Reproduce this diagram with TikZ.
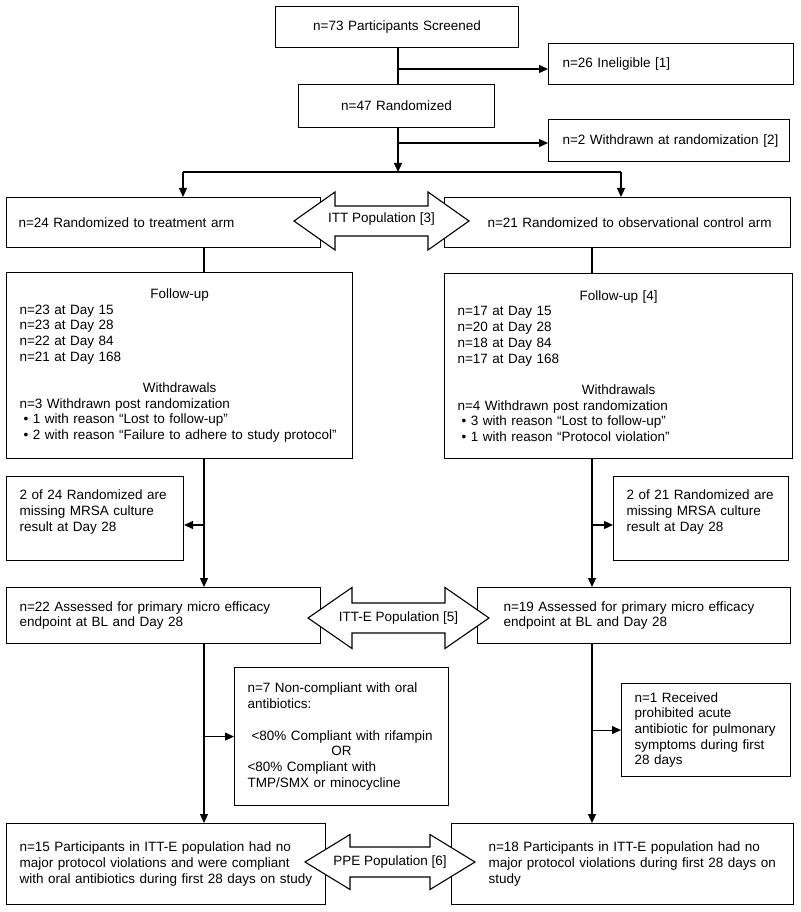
\documentclass[tikz,border=0pt]{standalone}
\usepackage{fontspec}
\setmainfont{Liberation Sans}
\usetikzlibrary{arrows.meta}

% wide two-headed population arrow: centre x, centre y, half length, head length, head half height
\newcommand{\popshape}[5]{%
  \draw[popfill] ({#1-#3},#2) -- ++(#4,#5) -- ++(0,{15-#5}) -- ({#1+#3-#4},{#2+15})
    -- ++(0,{#5-15}) -- ({#1+#3},#2) -- ++(-#4,-#5) -- ++(0,{#5-15})
    -- ({#1-#3+#4},{#2-15}) -- ++(0,{15-#5}) -- cycle;}

\begin{document}
\begin{tikzpicture}[x=1pt,y=-1pt,
                     box/.style={
                                % The shape:
                                rectangle,draw,line width=1.1pt,anchor=north west,
                                % The rest
                                align=left,inner ysep=0pt,
                                font=\fontsize{13.5}{15.7}\selectfont},
                     link/.style={line width=1.1pt},
                     flow/.style={line width=1.1pt,-{Triangle[length=9pt,width=8pt]}},
                     popfill/.style={draw,fill=white,line width=1.1pt},
                     poptext/.style={inner sep=0pt,font=\fontsize{13.5}{15.7}\selectfont}]
 \useasboundingbox (0,0) rectangle (800,912);

 % screening and randomization
 \node (screen) [box,align=center,text width=223pt,inner xsep=10pt,minimum height=41pt] at (275,6) {n=73 Participants Screened};
 \node (inelig) [box,text width=217pt,inner xsep=14pt,minimum height=41pt] at (548,43) {n=26 Ineligible [1]};
 \node (rand)   [box,align=center,text width=176pt,inner xsep=10pt,minimum height=43pt] at (298,84) {n=47 Randomized};
 \node (withdr) [box,text width=213pt,inner xsep=14pt,minimum height=42pt] at (548,119) {\mbox{n=2 Withdrawn at randomization [2]}};

 % arms
 \node (treat) [box,text width=290pt,inner xsep=12pt,minimum height=50pt] at (6,197) {n=24 Randomized to treatment arm};
 \node (ctrl)  [box,text width=260pt,inner xsep=43pt,minimum height=50pt] at (444,197) {\mbox{n=21 Randomized to observational control arm}};

 % follow-up
 \node (fu1) [box,text width=320pt,inner xsep=13pt,minimum height=186pt] at (6,272) {%
   \centerline{Follow-up}
   n=23 at Day 15\\
   n=23 at Day 28\\
   n=22 at Day 84\\
   n=21 at Day 168\par
   \vskip15.7pt
   \centerline{Withdrawals}
   n=3 Withdrawn post randomization\\
   \hspace*{4pt}\textbullet\ 1 with reason ``Lost to follow-up''\\
   \hspace*{4pt}\textbullet\ 2 with reason ``Failure to adhere to study protocol''};
 \node (fu2) [box,text width=322pt,inner xsep=13pt,minimum height=185pt] at (444,273) {%
   \centerline{Follow-up [4]}
   n=17 at Day 15\\
   n=20 at Day 28\\
   n=18 at Day 84\\
   n=17 at Day 168\par
   \vskip15.7pt
   \centerline{Withdrawals}
   n=4 Withdrawn post randomization\\
   \hspace*{4pt}\textbullet\ 3 with reason ``Lost to follow-up''\\
   \hspace*{4pt}\textbullet\ 1 with reason ``Protocol violation''};

 % missing cultures
 \node (miss1) [box,text width=151pt,inner xsep=13pt,minimum height=84pt] at (6,476) {2 of 24 Randomized are\\ missing MRSA culture\\ result at Day 28\\ \mbox{}};
 \node (miss2) [box,text width=149pt,inner xsep=13pt,minimum height=84pt] at (613,476) {2 of 21 Randomized are\\ missing MRSA culture\\ result at Day 28\\ \mbox{}};

 % ITT-E
 \node (as1) [box,text width=288pt,inner xsep=13pt,minimum height=56pt] at (6,587) {n=22 Assessed for primary micro efficacy\\ endpoint at BL and Day 28};
 \node (as2) [box,text width=261pt,inner xsep=26pt,minimum height=56pt] at (477,587) {n=19 Assessed for primary micro efficacy\\ endpoint at BL and Day 28};

 % exclusions
 \node (nc) [box,text width=188pt,inner xsep=13pt,minimum height=138pt] at (234,667) {%
   n=7 Non-compliant with oral\\
   antibiotics:\\[15.7pt]
   \hspace*{4pt}<80\% Compliant with rifampin\par
   \centerline{OR}
   <80\% Compliant with\\
   TMP/SMX or minocycline};
 \node (n1) [box,text width=143pt,inner xsep=13pt,minimum height=93pt] at (621,683) {n=1 Received\\ prohibited acute\\ antibiotic for pulmonary\\ symptoms during first\\ 28 days};

 % PPE
 \node (pp1) [box,text width=293pt,inner xsep=13pt,minimum height=81pt] at (6,823) {n=15 Participants in ITT-E population had no\\ major protocol violations and were compliant\\ with oral antibiotics during first 28 days on study};
 \node (pp2) [box,text width=268pt,inner xsep=37pt,minimum height=81pt] at (451,823) {\mbox{n=18 Participants in ITT-E population had no}\\ \mbox{major protocol violations during first 28 days on}\\ study};

 % connectors
 \coordinate (s1) at (398,69);
 \coordinate (s2) at (398,143);
 \coordinate (split) at (398,172);
 \coordinate (la) at (183,172);
 \coordinate (ra) at (621,172);
 \coordinate (m1) at (204,525);
 \coordinate (m2) at (592,525);

 \draw[link] (screen.south -| s1) -- (rand.north -| s1);
 \draw[flow] (s1) -- (s1 -| inelig.west);
 \draw[flow] (rand.south -| split) -- (split);
 \draw[flow] (s2) -- (s2 -| withdr.west);
 \draw[link] (la) -- (ra);
 \draw[flow] (la) -- (la |- treat.north);
 \draw[flow] (ra) -- (ra |- ctrl.north);
 \draw[link] (treat.south -| m1) -- (fu1.north -| m1);
 \draw[link] (ctrl.south -| m2) -- (fu2.north -| m2);
 \draw[flow] (fu1.south -| m1) -- (as1.north -| m1);
 \draw[flow] (m1) -- (m1 -| miss1.east);
 \draw[flow] (fu2.south -| m2) -- (as2.north -| m2);
 \draw[flow] (m2) -- (m2 -| miss2.west);
 \draw[flow] (as1.south -| m1) -- (pp1.north -| m1);
 \draw[flow] (m1 |- nc.west) -- (nc.west);
 \draw[flow] (as2.south -| m2) -- (pp2.north -| m2);
 \draw[flow] (m2 |- n1.west) -- (n1.west);

 % population arrows
 \popshape{381.5}{221}{87.5}{41}{29}
 \node (itt) [poptext] at (381.5,219) {ITT Population [3]};
 \popshape{398.5}{618}{90.5}{44}{30.5}
 \node (itte) [poptext] at (398.5,618) {ITT-E Population [5]};
 \popshape{390}{862}{85}{45}{27.5}
 \node (ppe) [poptext] at (390,862) {PPE Population [6]};
\end{tikzpicture}
\end{document}
